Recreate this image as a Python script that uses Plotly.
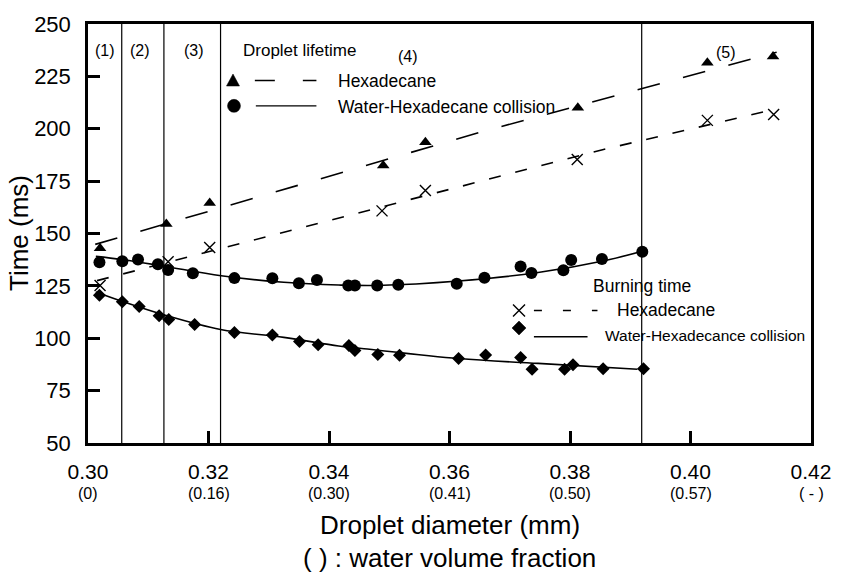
import plotly.graph_objects as go

# ------------------------------------------------------------------ data
x_ticks = [0.30, 0.32, 0.34, 0.36, 0.38, 0.40, 0.42]
x_tick_text = ["0.30", "0.32", "0.34", "0.36", "0.38", "0.40", "0.42"]
water_fraction_text = ["(0)", "(0.16)", "(0.30)", "(0.41)", "(0.50)", "(0.57)", "( - )"]
y_ticks = [50, 75, 100, 125, 150, 175, 200, 225, 250]

region_bounds = [0.3056, 0.3126, 0.3220, 0.3919]
region_labels = ["(1)", "(2)", "(3)", "(4)", "(5)"]

# Droplet lifetime - Hexadecane (triangles) and its fit
life_hex_x = [0.302, 0.313, 0.3202, 0.349, 0.356, 0.3813, 0.4028, 0.4137]
life_hex_y = [143.0, 154.5, 164.5, 182.5, 193.5, 210.0, 231.5, 234.5]
life_hex_fit_x = [0.3012, 0.3653, 0.4143]
life_hex_fit_y = [144.8, 198.5, 236.5]

# Droplet lifetime - Water-Hexadecane collision (circles) and its fit
life_col_x = [0.3019, 0.3057, 0.3083, 0.3116, 0.3133, 0.3174, 0.3243, 0.3306, 0.3350,
              0.3380, 0.3432, 0.3443, 0.3480, 0.3515, 0.3612, 0.3658, 0.3718, 0.3736,
              0.3789, 0.3802, 0.3853, 0.3920]
life_col_y = [136.3, 136.8, 137.6, 135.3, 132.6, 131.0, 128.7, 128.6, 126.3,
              127.8, 125.2, 125.2, 125.2, 125.5, 126.0, 128.9, 134.2, 131.2,
              132.5, 137.4, 137.8, 141.3]
life_col_fit_x = [0.3013, 0.3056, 0.3124, 0.3221, 0.3325, 0.3416, 0.3480, 0.3615,
                  0.3747, 0.3857, 0.3918]
life_col_fit_y = [139.1, 137.6, 134.5, 129.8, 126.7, 125.4, 125.2, 127.3,
                  131.4, 137.0, 141.4]

# Burning time - Hexadecane (crosses) and its fit
burn_hex_x = [0.302, 0.3133, 0.3202, 0.3488, 0.356, 0.3812, 0.4028, 0.4138]
burn_hex_y = [125.2, 136.5, 143.3, 160.8, 170.5, 185.3, 204.0, 206.8]
burn_hex_fit_x = [0.3015, 0.3854, 0.4143]
burn_hex_fit_y = [127.5, 190.0, 209.5]

# Burning time - Water-Hexadecane collision (diamonds) and its fit
burn_col_x = [0.3019, 0.3057, 0.3085, 0.3118, 0.3134, 0.3177, 0.3243, 0.3306, 0.3351,
              0.3382, 0.3433, 0.3443, 0.3481, 0.3517, 0.3615, 0.3660, 0.3718, 0.3737,
              0.3791, 0.3805, 0.3855, 0.3922]
burn_col_y = [120.5, 117.4, 115.1, 110.7, 108.9, 106.6, 102.7, 101.6, 98.4,
              96.9, 96.5, 94.2, 92.3, 91.9, 90.3, 92.0, 90.8, 85.2,
              85.2, 87.3, 85.5, 85.5]
burn_col_fit_x = [0.3013, 0.3056, 0.3126, 0.3220, 0.3325, 0.3416, 0.3458, 0.3615,
                  0.3747, 0.3912]
burn_col_fit_y = [122.1, 117.7, 111.2, 104.2, 100.4, 96.3, 95.0, 90.3,
                  88.0, 85.2]

# ------------------------------------------------------------------ layout constants
W, H = 843, 576
L, R, T, B = 88, 27, 13, 133
PW, PH = W - L - R, H - T - B
FONT = "Liberation Sans, Arial, Helvetica, sans-serif"


def px(xp):
    return (xp - L) / PW


def py(yp):
    return (H - B - yp) / PH


fig = go.Figure()

# fit lines
fig.add_trace(go.Scatter(x=life_hex_fit_x, y=life_hex_fit_y, mode="lines",
                         line=dict(color="black", width=1.6, dash="23px,24px")))
fig.add_trace(go.Scatter(x=burn_hex_fit_x, y=burn_hex_fit_y, mode="lines",
                         line=dict(color="black", width=1.6, dash="12px,15px")))
fig.add_trace(go.Scatter(x=life_col_fit_x, y=life_col_fit_y, mode="lines",
                         line=dict(color="black", width=1.6, shape="spline", smoothing=1.0)))
fig.add_trace(go.Scatter(x=burn_col_fit_x, y=burn_col_fit_y, mode="lines",
                         line=dict(color="black", width=1.6, shape="spline", smoothing=1.0)))

# data markers
fig.add_trace(go.Scatter(x=life_hex_x, y=life_hex_y, mode="markers",
                         marker=dict(symbol="triangle-up", size=11, color="black")))
fig.add_trace(go.Scatter(x=burn_hex_x, y=burn_hex_y, mode="markers",
                         marker=dict(symbol="x-thin-open", size=11, color="black",
                                     line=dict(color="black", width=1.4))))
fig.add_trace(go.Scatter(x=life_col_x, y=life_col_y, mode="markers",
                         marker=dict(symbol="circle", size=12, color="black")))
fig.add_trace(go.Scatter(x=burn_col_x, y=burn_col_y, mode="markers",
                         marker=dict(symbol="diamond", size=10, color="black")))

shapes = []
for xb in region_bounds:
    shapes.append(dict(type="line", xref="x", yref="paper", x0=xb, x1=xb, y0=0, y1=1,
                       line=dict(color="black", width=1.2)))

# legend keys (drawn as pixel-sized shapes anchored in paper coordinates)
leg_lines = [(256, 318, 71, "20px,28px"), (257, 318, 97, "solid"),
             (537, 601, 307, "8px,21px"), (537, 591, 334, "solid")]
for x0, x1, yy, dash in leg_lines:
    shapes.append(dict(type="line", xref="paper", yref="paper", x0=px(x0), x1=px(x1),
                       y0=py(yy), y1=py(yy), line=dict(color="black", width=1.4, dash=dash)))


def glyph(path, gx, gy, fill=True):
    return dict(type="path", xref="paper", yref="paper", xsizemode="pixel", ysizemode="pixel",
                xanchor=px(gx), yanchor=py(gy), path=path,
                fillcolor="black" if fill else "rgba(0,0,0,0)",
                line=dict(color="black", width=1.4 if not fill else 0.5))


shapes.append(glyph("M-6.5,-5.5L6.5,-5.5L0,6.5Z", 234, 71))
shapes.append(dict(type="circle", xref="paper", yref="paper", xsizemode="pixel",
                   ysizemode="pixel", xanchor=px(235), yanchor=py(97),
                   x0=-6.5, x1=6.5, y0=-6.5, y1=6.5, fillcolor="black",
                   line=dict(color="black", width=0.5)))
shapes.append(glyph("M-6,-6L6,6M-6,6L6,-6", 522, 307, fill=False))
shapes.append(glyph("M0,-7L7,0L0,7L-7,0Z", 522, 325))

annotations = []
# region labels
reg_pos = [(105, 40), (140, 40), (195, 40), (410, 46), (730, 42)]
for lab, (ax_, ay_) in zip(region_labels, reg_pos):
    annotations.append(dict(text=lab, x=px(ax_), y=py(ay_), xref="paper", yref="paper",
                            showarrow=False, xanchor="center", yanchor="middle",
                            font=dict(size=16, color="black", family=FONT)))
# legend texts
leg_txt = [("Droplet lifetime", 242, 40, 17), ("Hexadecane", 338, 71, 17.5),
           ("Water-Hexadecane collision", 338, 98, 17.5), ("Burning time", 594, 282, 17.5),
           ("Hexadecane", 619, 307, 17.5), ("Water-Hexadecance collision", 607, 333, 15.5)]
for t, ax_, ay_, fs in leg_txt:
    annotations.append(dict(text=t, x=px(ax_), y=py(ay_), xref="paper", yref="paper",
                            showarrow=False, xanchor="left", yanchor="middle",
                            font=dict(size=fs, color="black", family=FONT)))
# water volume fraction sub-labels under the x ticks
for xv, t in zip(x_ticks, water_fraction_text):
    annotations.append(dict(text=t, x=xv, y=py(495), xref="x", yref="paper",
                            showarrow=False, xanchor="center", yanchor="middle",
                            font=dict(size=16, color="black", family=FONT)))
# axis titles
annotations.append(dict(text="Droplet diameter (mm)", x=px(452), y=py(527), xref="paper",
                        yref="paper", showarrow=False, xanchor="center", yanchor="middle",
                        font=dict(size=26, color="black", family=FONT)))
annotations.append(dict(text="( ) : water volume fraction", x=px(452), y=py(561), xref="paper",
                        yref="paper", showarrow=False, xanchor="center", yanchor="middle",
                        font=dict(size=26, color="black", family=FONT)))
annotations.append(dict(text="Time (ms)", x=px(18), y=py(227), xref="paper",
                        yref="paper", showarrow=False, xanchor="center", yanchor="middle",
                        textangle=-90, font=dict(size=26, color="black", family=FONT)))

fig.update_layout(
    width=W, height=H,
    margin=dict(l=L, r=R, t=T, b=B, pad=0),
    paper_bgcolor="white", plot_bgcolor="white",
    showlegend=False,
    font=dict(family=FONT, color="black"),
    shapes=shapes,
    annotations=annotations,
    xaxis=dict(range=[0.30, 0.42], tickvals=x_ticks, ticktext=x_tick_text,
               ticks="inside", ticklen=12, tickwidth=2.5, tickcolor="black",
               showline=True, linewidth=2.5, linecolor="black", mirror=True,
               showgrid=False, zeroline=False, ticklabelstandoff=8,
               tickfont=dict(size=21, color="black", family=FONT)),
    yaxis=dict(range=[50, 250], tickvals=y_ticks,
               ticks="inside", ticklen=12, tickwidth=2.5, tickcolor="black",
               showline=True, linewidth=2.5, linecolor="black", mirror=True,
               showgrid=False, zeroline=False, ticklabelstandoff=10,
               tickfont=dict(size=22, color="black", family=FONT)),
)

fig.write_html("out.html")
